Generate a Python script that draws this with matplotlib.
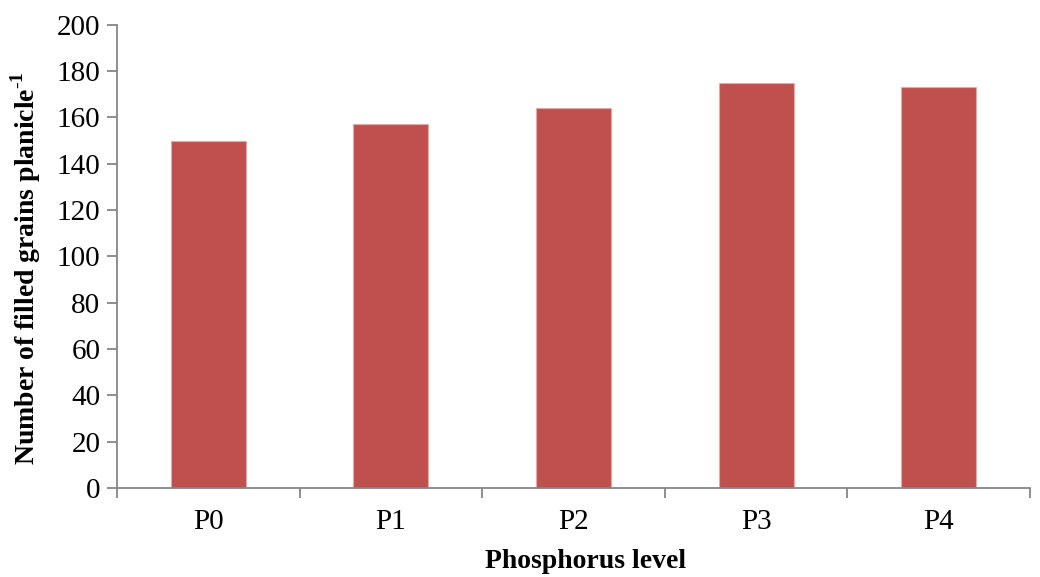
import numpy as np
import matplotlib
matplotlib.use('Agg')
import matplotlib.pyplot as plt

categories = ['P0', 'P1', 'P2', 'P3', 'P4']
values = [150, 157, 164, 175, 173]
yticks = [0, 20, 40, 60, 80, 100, 120, 140, 160, 180, 200]

plt.rcParams['font.family'] = 'Liberation Serif'
plt.rcParams['mathtext.fontset'] = 'custom'
plt.rcParams['mathtext.rm'] = 'Liberation Serif'
plt.rcParams['mathtext.bf'] = 'Liberation Serif:bold'

fig = plt.figure(figsize=(10.4, 5.77), dpi=100)
ax = fig.add_axes([0.1125, 0.154, 0.878, 0.803])

x = np.arange(len(categories))
ax.bar(x, values, width=0.41, color='#C0504D', edgecolor='#E6A9A8', linewidth=0.8)

ax.set_xlim(-0.5, len(categories) - 0.5)
ax.set_ylim(0, 200)
ax.set_yticks(yticks)
ax.set_xticks(x)
ax.set_xticklabels(categories)
ax.set_xticks(np.arange(len(categories) + 1) - 0.5, minor=True)

gray = '#868686'
for s in ['top', 'right']:
    ax.spines[s].set_visible(False)
for s in ['left', 'bottom']:
    ax.spines[s].set_color(gray)
    ax.spines[s].set_linewidth(1.3)

ax.tick_params(axis='y', direction='out', length=7, width=1.3, color=gray, labelsize=21, pad=5)
ax.tick_params(axis='x', which='major', length=0, labelsize=21, pad=15)
ax.tick_params(axis='x', which='minor', direction='out', length=7, width=1.3, color=gray)

ax.set_xlabel('Phosphorus level', fontsize=20, fontweight='bold')
ax.xaxis.set_label_coords(0.513, -0.132)
ax.set_ylabel(r'Number of filled grains planicle$^{\mathbf{\text{-}1}}$', fontsize=20,
              fontweight='bold')
ax.yaxis.set_label_coords(-0.081, 0.475)

fig.savefig('out.png', dpi=100)
